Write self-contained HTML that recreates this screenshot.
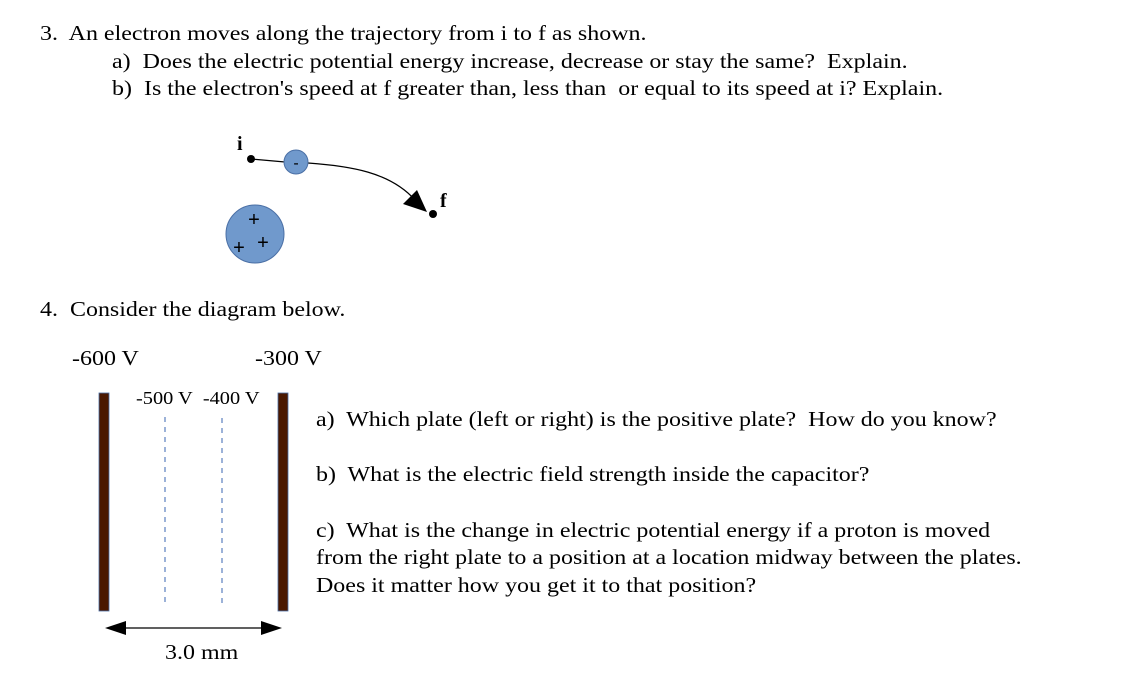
<!DOCTYPE html>
<html><head><style>
body{margin:0;width:1144px;height:678px;background:#fff;overflow:hidden;position:relative;font-family:"Liberation Serif",serif;color:#000}
.t{position:absolute;white-space:nowrap;font-size:21.5px;line-height:1;transform:scaleX(1.115);transform-origin:0 0}
.s{position:absolute;white-space:nowrap;font-size:18px;line-height:1;transform:scaleX(1.13);transform-origin:0 0}
</style></head><body>
<div class="t" style="left:40px;top:23px">3.&nbsp; An electron moves along the trajectory from i to f as shown.</div>
<div class="t" style="left:112px;top:51px">a)&nbsp; Does the electric potential energy increase, decrease or stay the same?&nbsp; Explain.</div>
<div class="t" style="left:112px;top:78px">b)&nbsp; Is the electron's speed at f greater than, less than&nbsp; or equal to its speed at i? Explain.</div>
<div class="t" style="left:40px;top:299px">4.&nbsp; Consider the diagram below.</div>
<div class="t" style="left:72px;top:348px">-600 V</div>
<div class="t" style="left:255px;top:348px">-300 V</div>
<div class="s" style="left:136px;top:389px">-500 V&nbsp; -400 V</div>
<div class="t" style="left:316px;top:409px">a)&nbsp; Which plate (left or right) is the positive plate?&nbsp; How do you know?</div>
<div class="t" style="left:316px;top:464px">b)&nbsp; What is the electric field strength inside the capacitor?</div>
<div class="t" style="left:316px;top:520px">c)&nbsp; What is the change in electric potential energy if a proton is moved</div>
<div class="t" style="left:316px;top:547px">from the right plate to a position at a location midway between the plates.</div>
<div class="t" style="left:316px;top:575px">Does it matter how you get it to that position?</div>
<div class="t" style="left:165px;top:642px">3.0 mm</div>
<svg width="1144" height="678" style="position:absolute;left:0;top:0">
<text x="237" y="150" font-family="Liberation Serif" font-weight="bold" font-size="20">i</text>
<text x="440" y="207" font-family="Liberation Serif" font-weight="bold" font-size="20">f</text>
<circle cx="251" cy="159" r="4" fill="#000"/>
<circle cx="433" cy="214" r="4" fill="#000"/>
<path d="M251,159 L285,162 M308,163 C350,166 390,172 415,200" stroke="#000" stroke-width="1.2" fill="none"/>
<polygon points="427,212 403,204 417,190" fill="#000"/>
<circle cx="296" cy="162" r="12" fill="#7099cc" stroke="#4a6fa5"/>
<text x="296" y="168" text-anchor="middle" font-family="Liberation Sans" font-size="16">-</text>
<circle cx="255" cy="234" r="29" fill="#7099cc" stroke="#4a6fa5"/>
<text x="254" y="226" text-anchor="middle" font-family="Liberation Sans" font-size="20">+</text>
<text x="239" y="254" text-anchor="middle" font-family="Liberation Sans" font-size="20">+</text>
<text x="263" y="249" text-anchor="middle" font-family="Liberation Sans" font-size="20">+</text>
<rect x="99" y="393" width="10" height="218" fill="#4a1800" stroke="#4a6fa5" stroke-width="0.8"/>
<rect x="278" y="393" width="10" height="218" fill="#4a1800" stroke="#4a6fa5" stroke-width="0.8"/>
<line x1="165" y1="417" x2="165" y2="606" stroke="#3a66b0" stroke-dasharray="5,5"/>
<line x1="222" y1="418" x2="222" y2="608" stroke="#3a66b0" stroke-dasharray="5,5"/>
<line x1="120" y1="628" x2="265" y2="628" stroke="#000" stroke-width="1.3"/>
<polygon points="105,628 126,621 126,635" fill="#000"/>
<polygon points="282,628 261,621 261,635" fill="#000"/>
</svg>
</body></html>
